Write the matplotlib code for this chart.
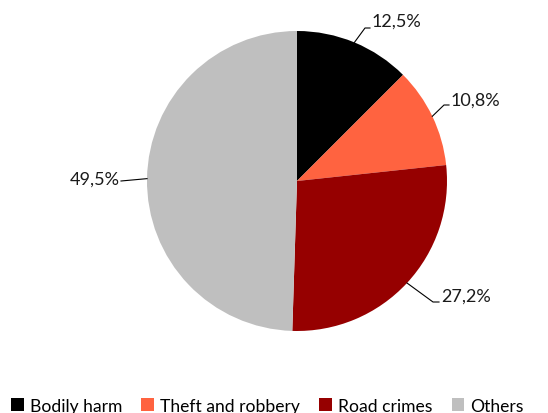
import numpy as np
import matplotlib.pyplot as plt
from matplotlib.patches import Patch

plt.rcParams['font.family'] = ['Lato', 'DejaVu Sans']

# Datos del grafico
categorias = ['Bodily harm', 'Theft and robbery', 'Road crimes', 'Others']
valores = [12.5, 10.8, 27.2, 49.5]
colores = ['#000000', '#FF6340', '#960000', '#BFBFBF']

W, H = 548, 414
fig = plt.figure(figsize=(W / 100, H / 100), dpi=100)
ax = fig.add_axes([0, 0, 1, 1])

# coordenadas en pixeles (y medido desde arriba)
def py(y):
    return H - y

cx, cy, r = 297, py(182), 150
wedges, _ = ax.pie(valores, colors=colores, startangle=90, counterclock=False,
                   center=(cx, cy), radius=r, frame=True)
ax.set_xlim(0, W)
ax.set_ylim(0, H)
ax.set_aspect('equal')
ax.axis('off')

# Posicion del texto de cada etiqueta y punto de quiebre de la linea guia
pos_texto = [(372, 22, 'left'), (451, 101, 'left'), (441, 297, 'left'), (120, 180, 'right')]
quiebre = [(365, 29), (444, 106), (433, 303), (None, None)]

for w, v, (tx, ty, ha), (qx, qy) in zip(wedges, valores, pos_texto, quiebre):
    ang = np.deg2rad((w.theta1 + w.theta2) / 2)
    ex = cx + r * np.cos(ang)
    ey = cy + r * np.sin(ang)
    if qx is None:
        ax.plot([ex, tx + 1], [ey, py(ty + 2)], color='black', lw=0.8)
    else:
        ax.plot([ex, qx, tx - 2], [ey, py(qy), py(qy)], color='black', lw=0.8)
    ax.text(tx, py(ty), f'{v:.1f}%'.replace('.', ','), ha=ha, va='center',
            fontsize=13, color='#1a1a1a')

handles = [Patch(facecolor=c, edgecolor='none') for c in colores]
fig.legend(handles, categorias, loc='center', bbox_to_anchor=(0.488, 0.018),
           ncol=4, frameon=False, fontsize=12.6, handlelength=0.72,
           handleheight=0.72, handletextpad=0.35, columnspacing=1.1)

fig.savefig('out.png', dpi=100)
